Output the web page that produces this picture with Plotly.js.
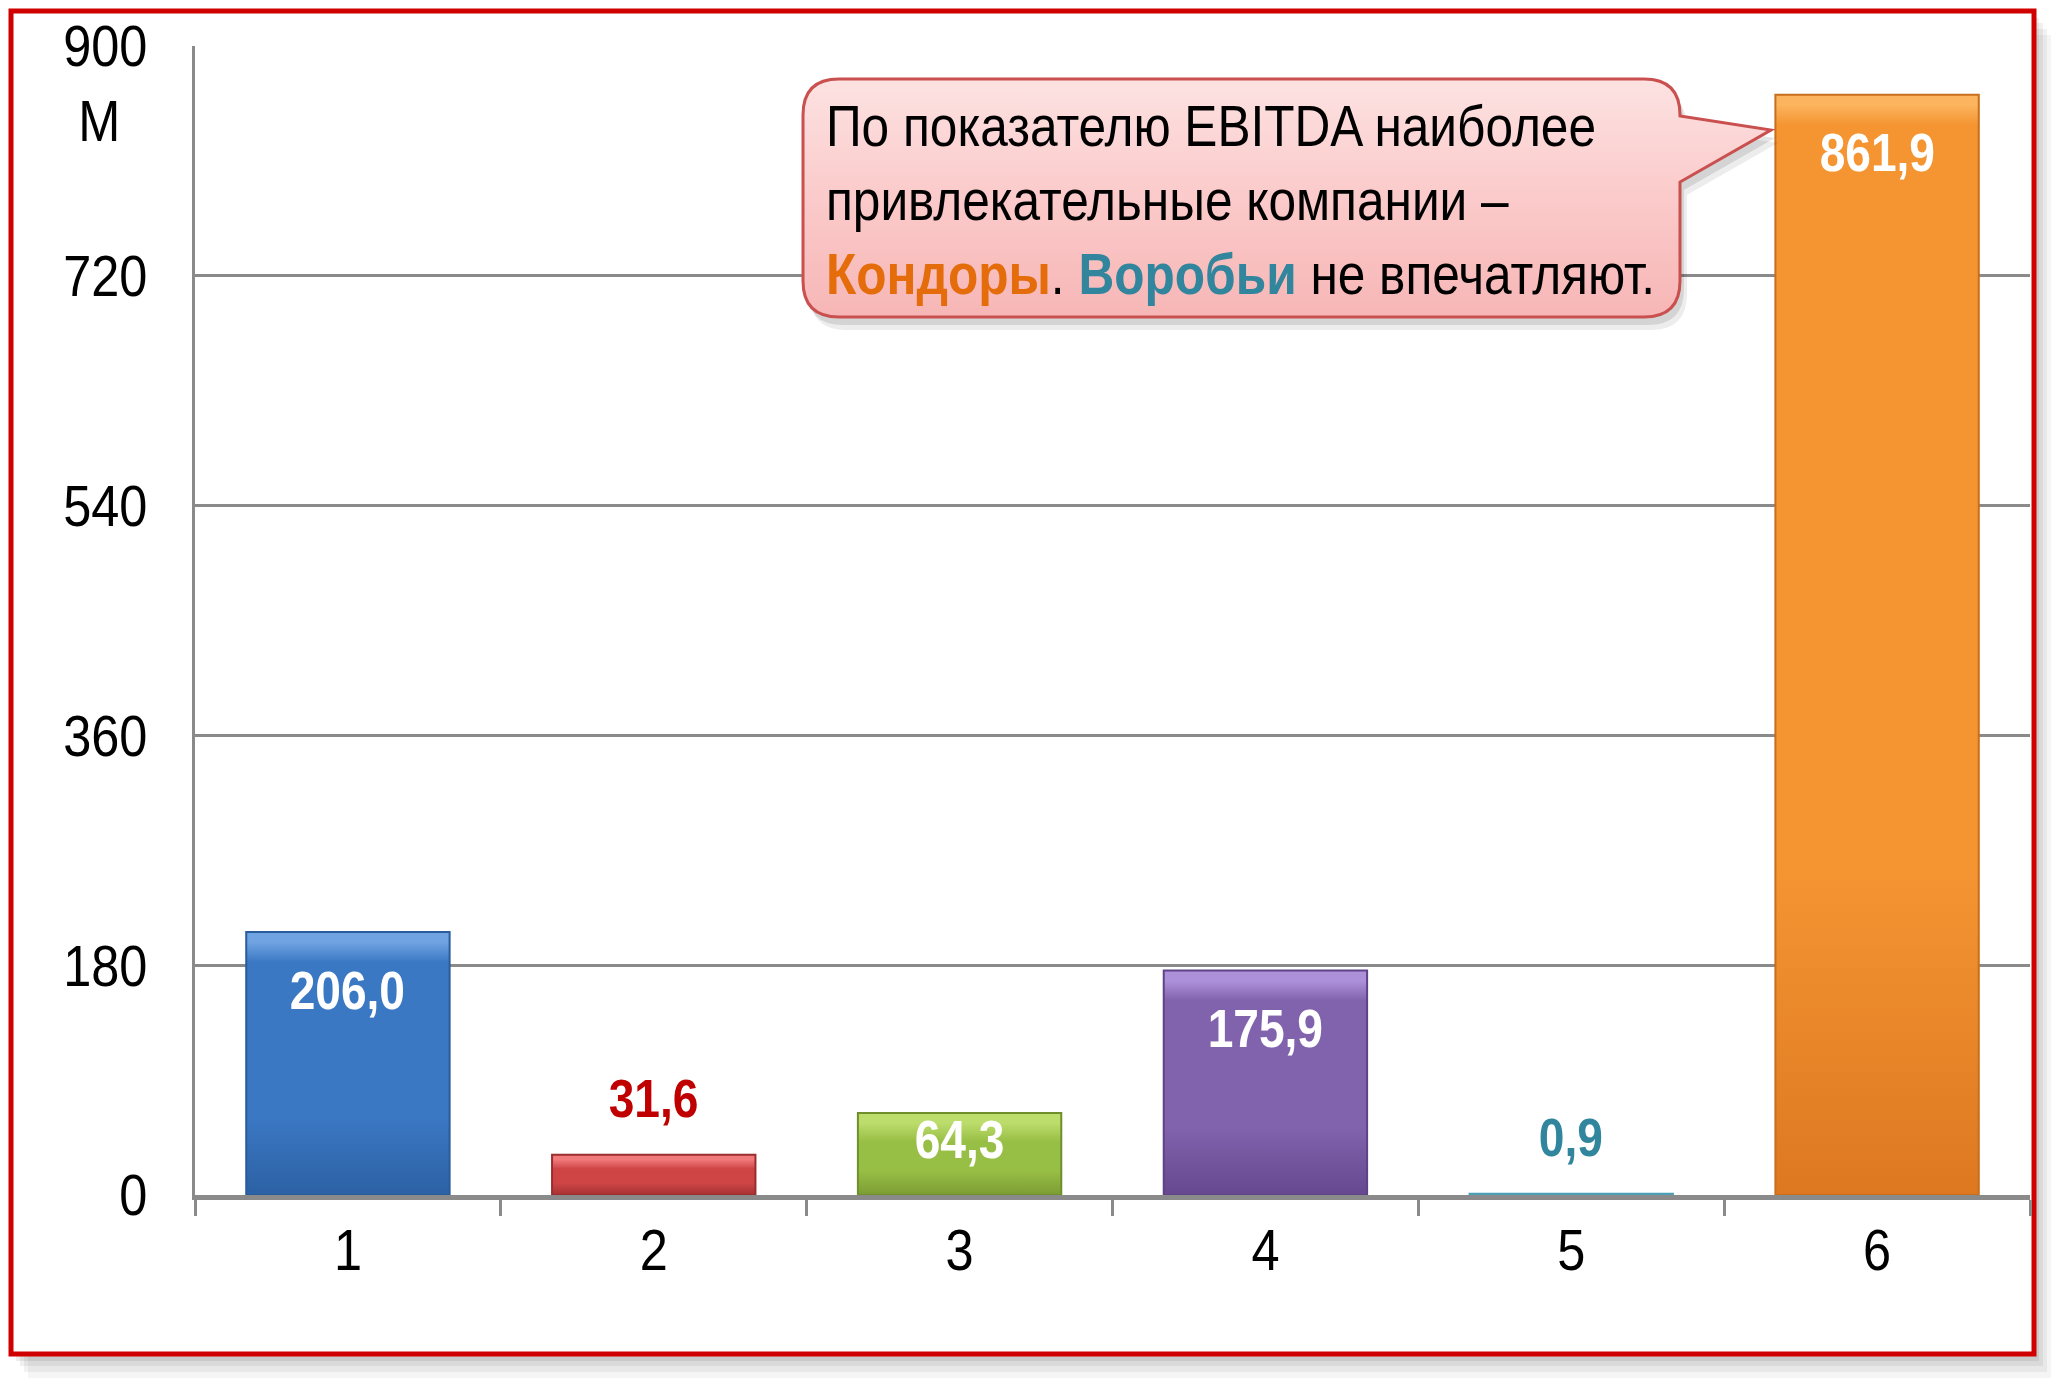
<!DOCTYPE html>
<html>
<head>
<meta charset="utf-8">
<script src="https://cdn.plot.ly/plotly-3.0.1.min.js"></script>
<style>
  html, body { margin: 0; padding: 0; background: #ffffff; }
  #chart { width: 2067px; height: 1388px; }
</style>
</head>
<body>
<div id="chart"></div>
<script>
// ---- data ----
const categories = ["1", "2", "3", "4", "5", "6"];
const values = [206.0, 31.6, 64.3, 175.9, 0.9, 861.9];
const yTickVals = [0, 180, 360, 540, 720, 900];
const yTickText = ["0", "180", "360", "540", "720", "900"];
const unitLabel = "М";
const calloutLines = [
  "По показателю EBITDA наиболее",
  "привлекательные компании –",
  "<b><span style='color:#e46c0a'>Кондоры</span></b>. <b><span style='color:#31859c'>Воробьи</span></b> не впечатляют."
];

// ---- styles ----
const barColors = ["#3b78c3", "#cf4546", "#98bf45", "#8162ad", "#6cc0d6", "#f49532"];
const barTop = ["#6fa3e2", "#f07a7a", "#bcdc6c", "#ad90da", "#a2dcea", "#fcb45e"];
const barBottom = ["#2c61a4", "#a63232", "#7c9c35", "#65488f", "#4ba0b8", "#dd7821"];
const barEdge = ["#2a5c9c", "#9a2d2e", "#6f8f2c", "#5e4385", "#4ba0b8", "#c86e1c"];
const labelColors = ["#ffffff", "#c00000", "#ffffff", "#ffffff", "#31859c", "#ffffff"];
const labelInside = [true, false, true, true, false, true];
const FONT = "'Liberation Sans', Arial, sans-serif";
const NARROW = 0.87;   // horizontal condensing to mimic Arial Narrow

const W = 2067, H = 1388;
const M = { l: 195, r: 37, t: 46, b: 193 };
const PW = W - M.l - M.r, PH = H - M.t - M.b;
const px = x => (x - M.l) / PW;
const py = y => (H - M.b - y) / PH;
const P = (x, y) => px(x).toFixed(5) + "," + py(y).toFixed(5);

function fmt(v) { return v.toFixed(1).replace(".", ","); }

const trace = {
  type: "bar",
  x: categories,
  y: values,
  marker: { color: barColors, line: { color: barEdge, width: 2 } },
  hoverinfo: "skip",
  showlegend: false
};

const yr = 900;
const annotations = values.map((v, i) => {
  const barPx = v / yr * PH;
  let shift;
  if (labelInside[i]) shift = -Math.min(58, barPx * 0.32);
  else shift = 56;
  return {
    x: i, y: v, xref: "x", yref: "y",
    text: fmt(v), showarrow: false, yanchor: "middle", xanchor: "center", yshift: shift,
    font: { family: FONT, size: 53, color: labelColors[i], weight: "bold" }
  };
});

annotations.push({
  xref: "paper", yref: "paper", x: px(99), y: py(121),
  text: unitLabel, showarrow: false, xanchor: "center", yanchor: "middle",
  font: { family: FONT, size: 58, color: "#000000" }
});

annotations.push({
  xref: "paper", yref: "paper", x: px(824), y: py(200),
  text: calloutLines.join("<br>"), showarrow: false, xanchor: "left", yanchor: "middle", align: "left",
  font: { family: FONT, size: 57, color: "#000000" }
});

// callout path
function calloutPath(dx, dy) {
  const x0 = 803 + dx, x1 = 1680 + dx, y0 = 79 + dy, y1 = 317 + dy, r = 36;
  return "M" + P(x0 + r, y0) + " L" + P(x1 - r, y0) + " Q" + P(x1, y0) + " " + P(x1, y0 + r) +
    " L" + P(x1, 116 + dy) + " L" + P(1771 + dx, 130 + dy) + " L" + P(x1, 182 + dy) +
    " L" + P(x1, y1 - r) + " Q" + P(x1, y1) + " " + P(x1 - r, y1) +
    " L" + P(x0 + r, y1) + " Q" + P(x0, y1) + " " + P(x0, y1 - r) +
    " L" + P(x0, y0 + r) + " Q" + P(x0, y0) + " " + P(x0 + r, y0) + " Z";
}

const shapes = [];
// frame shadow
[[5, 7, 0.07], [9, 12, 0.06], [13, 18, 0.05], [17, 24, 0.04]].forEach(s => {
  shapes.push({
    type: "rect", xref: "paper", yref: "paper", layer: "below",
    x0: px(11 + s[0]), x1: px(2034 + s[0]), y0: py(1354 + s[1]), y1: py(11 + s[1]),
    fillcolor: "rgba(0,0,0," + s[2] + ")", line: { width: 0 }
  });
});
// frame
shapes.push({
  type: "rect", xref: "paper", yref: "paper", layer: "below",
  x0: px(11), x1: px(2034), y0: py(1354), y1: py(11),
  fillcolor: "#ffffff", line: { color: "#d00000", width: 5 }
});
// callout shadow
[[4, 8, 0.10], [7, 13, 0.07]].forEach(s => {
  shapes.push({
    type: "path", xref: "paper", yref: "paper", layer: "above",
    path: calloutPath(s[0], s[1]), fillcolor: "rgba(0,0,0," + s[2] + ")", line: { width: 0 }
  });
});
// callout
shapes.push({
  type: "path", xref: "paper", yref: "paper", layer: "above",
  path: calloutPath(0, 0), fillcolor: "#fbc9c9", line: { color: "#c9504e", width: 3 }
});

const layout = {
  width: W, height: H,
  margin: M,
  paper_bgcolor: "#ffffff",
  plot_bgcolor: "rgba(0,0,0,0)",
  bargap: 0.335,
  showlegend: false,
  font: { family: FONT, color: "#000000" },
  xaxis: {
    type: "category",
    range: [-0.5, 5.5],
    showgrid: false, zeroline: false,
    showline: true, linecolor: "#8a8a8a", linewidth: 5,
    ticks: "outside", tickson: "boundaries", ticklen: 16, tickwidth: 3, tickcolor: "#8a8a8a",
    tickfont: { family: FONT, size: 58, color: "#000000" },
    ticklabelstandoff: 0,
    fixedrange: true
  },
  yaxis: {
    range: [0, yr],
    tickvals: yTickVals, ticktext: yTickText,
    showgrid: true, gridcolor: "#8a8a8a", gridwidth: 3,
    zeroline: false,
    showline: true, linecolor: "#8a8a8a", linewidth: 3,
    ticks: "",
    tickfont: { family: FONT, size: 58, color: "#000000" },
    ticklabelstandoff: 33,
    fixedrange: true
  },
  shapes: shapes,
  annotations: annotations
};

const SVGNS = "http://www.w3.org/2000/svg";
function makeGradient(defs, id, stops) {
  const g = document.createElementNS(SVGNS, "linearGradient");
  g.setAttribute("id", id);
  g.setAttribute("x1", "0"); g.setAttribute("y1", "0");
  g.setAttribute("x2", "0"); g.setAttribute("y2", "1");
  stops.forEach(s => {
    const st = document.createElementNS(SVGNS, "stop");
    st.setAttribute("offset", s[0]);
    st.setAttribute("stop-color", s[1]);
    g.appendChild(st);
  });
  defs.appendChild(g);
}

function finish() {
  // condense text horizontally (Arial Narrow look)
  document.querySelectorAll("#chart svg text").forEach(t => {
    if (t.dataset.narrow) return;
    t.dataset.narrow = "1";
    const x = parseFloat(t.getAttribute("x")) || 0;
    const tr = t.getAttribute("transform") || "";
    t.setAttribute("transform", (tr + " translate(" + x + ",0) scale(" + NARROW + ",1) translate(" + (-x) + ",0)").trim());
  });
  const svg = document.querySelector("#chart svg.main-svg");
  let defs = svg.querySelector("defs");
  if (!defs) { defs = document.createElementNS(SVGNS, "defs"); svg.insertBefore(defs, svg.firstChild); }
  // bar shading: soft light bevel on top, darker toward the bottom
  document.querySelectorAll("#chart .bars .point path").forEach((p, i) => {
    const bb = p.getBBox();
    const h = Math.max(bb.height, 1);
    const b = Math.min(30, h * 0.35) / h;
    const id = "bargrad" + i;
    makeGradient(defs, id, [
      [0, barTop[i]], [b * 0.35, barTop[i]], [b, barColors[i]], [Math.max(b, 0.7), barColors[i]], [1, barBottom[i]]
    ]);
    p.style.fill = "url(#" + id + ")";
  });
  // callout gradient
  const sp = document.querySelectorAll("#chart .layer-above .shapelayer path");
  if (sp.length) {
    makeGradient(defs, "calloutgrad", [[0, "#fde2e2"], [0.5, "#fbcaca"], [1, "#f7b6b6"]]);
    sp[sp.length - 1].style.fill = "url(#calloutgrad)";
  }
}

Plotly.newPlot("chart", [trace], layout, { displayModeBar: false, staticPlot: true }).then(finish);
</script>
</body>
</html>
